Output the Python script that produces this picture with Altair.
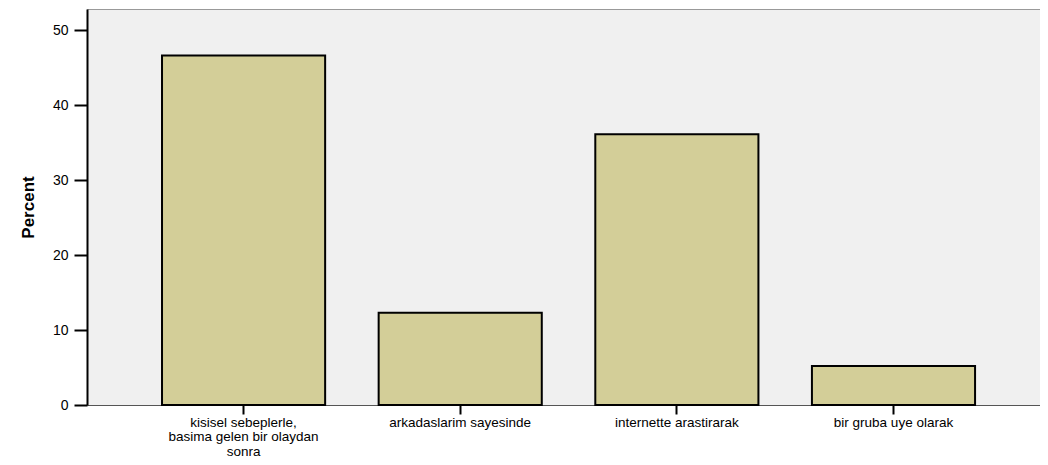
import altair as alt
import pandas as pd

categories = [
    "kisisel sebeplerle,\nbasima gelen bir olaydan\nsonra",
    "arkadaslarim sayesinde",
    "internette arastirarak",
    "bir gruba uye olarak",
]
percent = [46.6, 12.3, 36.1, 5.2]

df = pd.DataFrame({"cat": categories, "pct": percent})

FONT = "Liberation Sans"

chart = alt.Chart(df).mark_bar(
    color="#D3CE98", stroke="#000000", strokeWidth=2
).encode(
    x=alt.X(
        "cat:N",
        sort=categories,
        title=None,
        scale=alt.Scale(paddingInner=0.247, paddingOuter=0.323, align=0.536),
        axis=alt.Axis(
            labelAngle=0,
            labelExpr="split(datum.label, '\\n')",
            labelFont=FONT,
            labelFontSize=13.5,
            labelColor="#000000",
            labelPadding=1,
            labelLineHeight=14.5,
            tickColor="#000000",
            tickWidth=2,
            tickSize=9,
            domainColor="#555555",
            domainWidth=1,
            grid=False,
        ),
    ),
    y=alt.Y(
        "pct:Q",
        title="Percent",
        scale=alt.Scale(domain=[0, 52.8], nice=False, zero=True),
        axis=alt.Axis(
            values=[0, 10, 20, 30, 40, 50],
            labelFont=FONT,
            labelFontSize=14,
            labelColor="#000000",
            labelPadding=6,
            tickColor="#000000",
            tickWidth=2,
            tickSize=13,
            domainColor="#000000",
            domainWidth=2,
            grid=False,
            titleFont="Liberation Sans Narrow, Arial Narrow, Liberation Sans",
            titleFontSize=17,
            titleFontWeight="bold",
            titleColor="#000000",
            titlePadding=15,
        ),
    ),
).properties(
    width=953,
    height=396,
    background="#FFFFFF",
    autosize=alt.AutoSizeParams(type="none"),
    padding={"left": 79, "top": 1, "right": 0, "bottom": 52},
).configure_view(
    fill="#F0F0F0",
    stroke="#999999",
    strokeWidth=1,
)

chart.save("out.html", embed_options={"renderer": "svg", "actions": False})
